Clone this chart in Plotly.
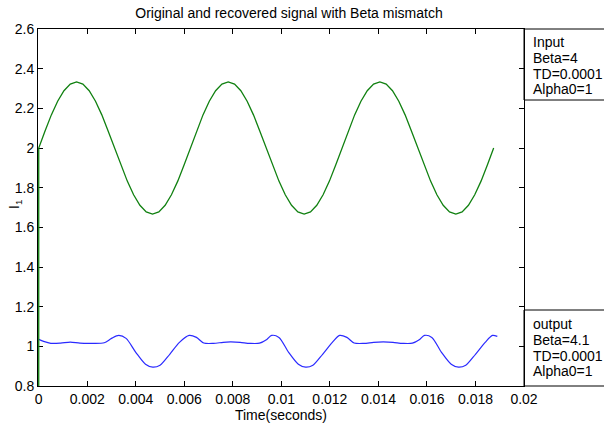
import plotly.graph_objects as go

# ---------------- data ----------------
t_in = [0.0, 0.0,
        0.00026, 0.00052, 0.00078, 0.00104, 0.0013, 0.00156, 0.00182, 0.00208, 0.00234, 0.0026, 0.00286,
        0.00313, 0.00339, 0.00365, 0.00391, 0.00417, 0.00443, 0.00469, 0.00495, 0.00521, 0.00547, 0.00573, 0.00599,
        0.00625, 0.00651, 0.00677, 0.00703, 0.00729, 0.00755, 0.00781, 0.00807, 0.00833, 0.00859, 0.00885, 0.00911,
        0.00938, 0.00964, 0.0099, 0.01016, 0.01042, 0.01068, 0.01094, 0.0112, 0.01146, 0.01172, 0.01198, 0.01224,
        0.0125, 0.01276, 0.01302, 0.01328, 0.01354, 0.0138, 0.01406, 0.01432, 0.01458, 0.01484, 0.0151, 0.01536,
        0.01563, 0.01589, 0.01615, 0.01641, 0.01667, 0.01693, 0.01719, 0.01745, 0.01771, 0.01797, 0.01823, 0.01849,
        0.01875]
i_in = [0.0, 2.000,
        2.086, 2.167, 2.236, 2.289, 2.322, 2.333, 2.322, 2.289, 2.236, 2.167, 2.086,
        2.000, 1.914, 1.833, 1.764, 1.711, 1.678, 1.667, 1.678, 1.711, 1.764, 1.833, 1.914,
        2.000, 2.086, 2.167, 2.236, 2.289, 2.322, 2.333, 2.322, 2.289, 2.236, 2.167, 2.086,
        2.000, 1.914, 1.833, 1.764, 1.711, 1.678, 1.667, 1.678, 1.711, 1.764, 1.833, 1.914,
        2.000, 2.086, 2.167, 2.236, 2.289, 2.322, 2.333, 2.322, 2.289, 2.236, 2.167, 2.086,
        2.000, 1.914, 1.833, 1.764, 1.711, 1.678, 1.667, 1.678, 1.711, 1.764, 1.833, 1.914,
        2.000]

t_out = [0.0, 0.0002, 0.0005, 0.0009, 0.0013, 0.0017, 0.0022, 0.0027, 0.0030, 0.0033, 0.0036, 0.0040,
         0.0044, 0.0047, 0.0050, 0.0054, 0.0058, 0.0062, 0.0065, 0.0068, 0.0072, 0.0076, 0.0079, 0.0083,
         0.0087, 0.0091, 0.0094, 0.0096, 0.0099, 0.0103, 0.0107, 0.0110, 0.0113, 0.0117, 0.0121, 0.0124,
         0.0127, 0.0130, 0.0134, 0.0138, 0.0142, 0.0146, 0.0150, 0.0154, 0.0157, 0.0159, 0.0162, 0.0166,
         0.0170, 0.0173, 0.0176, 0.0180, 0.0184, 0.0187, 0.0189]
i_out = [1.035, 1.025, 1.015, 1.016, 1.021, 1.016, 1.015, 1.018, 1.040, 1.055, 1.040, 0.970,
         0.910, 0.895, 0.905, 0.960, 1.020, 1.055, 1.045, 1.017, 1.015, 1.020, 1.022, 1.020,
         1.015, 1.016, 1.035, 1.055, 1.045, 0.970, 0.910, 0.895, 0.905, 0.960, 1.020, 1.055,
         1.045, 1.017, 1.015, 1.020, 1.022, 1.020, 1.015, 1.016, 1.035, 1.055, 1.045, 0.970,
         0.910, 0.895, 0.905, 0.960, 1.020, 1.055, 1.050]

x_ticks = [0, 0.002, 0.004, 0.006, 0.008, 0.01, 0.012, 0.014, 0.016, 0.018, 0.02]
x_tick_text = ["0", "0.002", "0.004", "0.006", "0.008", "0.01", "0.012", "0.014", "0.016", "0.018", "0.02"]
y_ticks = [0.8, 1.0, 1.2, 1.4, 1.6, 1.8, 2.0, 2.2, 2.4, 2.6]
y_tick_text = ["0.8", "1", "1.2", "1.4", "1.6", "1.8", "2", "2.2", "2.4", "2.6"]

input_legend = ["Input", "Beta=4", "TD=0.0001", "Alpha0=1"]
output_legend = ["output", "Beta=4.1", "TD=0.0001", "Alpha0=1"]

# ---------------- figure ----------------
FONT = "Liberation Sans, Arial, sans-serif"
FS = 14
W, H = 604, 426
L, R, T, B = 38, 80, 29, 40
pw = W - L - R
ph = H - T - B

fig = go.Figure()
fig.add_trace(go.Scatter(x=t_out, y=i_out, mode="lines",
                         line=dict(color="#2a2aff", width=1.2, shape="spline", smoothing=0.8),
                         showlegend=False))
fig.add_trace(go.Scatter(x=t_in, y=i_in, mode="lines",
                         line=dict(color="#108010", width=1.3),
                         showlegend=False))

axis_common = dict(showline=True, linecolor="black", linewidth=1, mirror="allticks",
                   ticks="inside", ticklen=5, tickcolor="black", showgrid=False, zeroline=False,
                   tickfont=dict(family=FONT, size=FS, color="black"), layer="below traces",
                   automargin=False)

fig.update_layout(
    width=W, height=H,
    margin=dict(l=L, r=R, t=T, b=B, autoexpand=False),
    paper_bgcolor="white", plot_bgcolor="white",
    font=dict(family=FONT, size=FS, color="black"),
    title=dict(text="Original and recovered signal with Beta mismatch", x=289 / W,
               xanchor="center", y=1 - 13 / H, yanchor="middle",
               font=dict(family=FONT, size=FS, color="black")),
    xaxis=dict(range=[-0.00003, 0.02], tickvals=x_ticks, ticktext=x_tick_text,
               title=dict(text="Time(seconds)", font=dict(family=FONT, size=FS), standoff=2),
               **axis_common),
    yaxis=dict(range=[0.8, 2.6], tickvals=y_ticks, ticktext=y_tick_text, **axis_common),
)

# y axis label
fig.add_annotation(xref="paper", yref="paper", x=(15 - L) / pw, y=1 - (205 - T) / ph,
                   xanchor="center", yanchor="middle", showarrow=False, textangle=-90,
                   text="I<sub>1</sub>", font=dict(family=FONT, size=FS, color="black"))

# legend boxes (paper coordinates)
bx0 = 1.0
bx1 = 1.0 + (W - (L + pw) + 2) / pw
top_y0 = (H - B - 100) / ph
bot_y1 = (H - B - 310) / ph
fig.add_shape(type="rect", xref="paper", yref="paper", x0=bx0, x1=bx1, y0=top_y0, y1=1,
              line=dict(color="black", width=1), fillcolor="white", layer="below")
fig.add_shape(type="rect", xref="paper", yref="paper", x0=bx0, x1=bx1, y0=0, y1=bot_y1,
              line=dict(color="black", width=1), fillcolor="white", layer="below")

for lines, y_first in ((input_legend, 42), (output_legend, 324)):
    for k, txt in enumerate(lines):
        yc = y_first + k * 15.8
        fig.add_annotation(xref="paper", yref="paper", x=(531 - L) / pw, y=1 - (yc - T) / ph,
                           xanchor="left", yanchor="middle", align="left", showarrow=False,
                           text=txt, font=dict(family=FONT, size=FS, color="black"))

fig.write_html("out.html")
